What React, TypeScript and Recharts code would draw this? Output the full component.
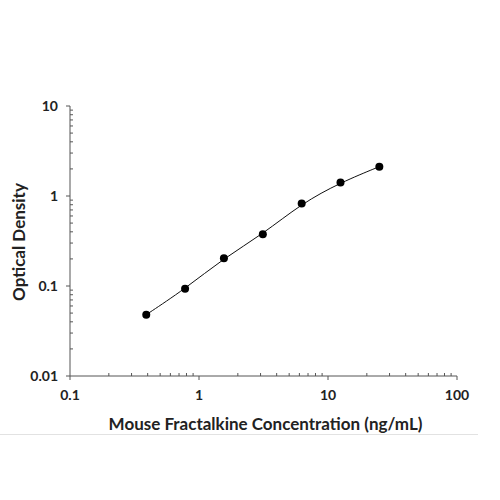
import React from "react";
import { ComposedChart, Line, XAxis, YAxis, Label } from "recharts";

// standard curve
const concentration = [0.39, 0.78, 1.56, 3.125, 6.25, 12.5, 25];
const opticalDensity = [0.048, 0.093, 0.204, 0.377, 0.826, 1.41, 2.12];

const xMajor = [0.1, 1, 10, 100];
const yMajor = [0.01, 0.1, 1, 10];
const minorSteps = [2, 3, 4, 5, 6, 7, 8, 9];

const xTicks = [
  ...xMajor,
  ...xMajor.slice(0, -1).flatMap((d) => minorSteps.map((m) => +(d * m).toPrecision(3))),
];
const yTicks = [
  ...yMajor,
  ...yMajor.slice(0, -1).flatMap((d) => minorSteps.map((m) => +(d * m).toPrecision(3))),
];

const data = concentration.map((c, i) => ({ x: c, y: opticalDensity[i] }));

const FONT = "Lato, 'Open Sans', sans-serif";
const AXIS = "#555";

const isMajor = (v: number, majors: number[]) => majors.some((m) => Math.abs(m - v) < 1e-9);

const XTick = ({ x, y, payload }: any) => {
  const major = isMajor(payload.value, xMajor);
  if (!major) return <line x1={x} x2={x} y1={y} y2={y - 3} stroke={AXIS} strokeWidth={1} />;
  return (
    <g>
      <line x1={x} x2={x} y1={y} y2={y + 4} stroke={AXIS} strokeWidth={1} />
      <text x={x} y={y + 24} textAnchor="middle" fontFamily={FONT} fontWeight={700} fontSize={14} fill="#222">
        {payload.value}
      </text>
    </g>
  );
};

const YTick = ({ x, y, payload }: any) => {
  const major = isMajor(payload.value, yMajor);
  if (!major) return <line x1={x} x2={x + 3} y1={y} y2={y} stroke={AXIS} strokeWidth={1} />;
  return (
    <g>
      <line x1={x} x2={x - 4} y1={y} y2={y} stroke={AXIS} strokeWidth={1} />
      <text x={x - 12} y={y + 5} textAnchor="end" fontFamily={FONT} fontWeight={700} fontSize={14} fill="#222">
        {payload.value}
      </text>
    </g>
  );
};

export default function App() {
  return (
    <div style={{ position: "absolute", left: 0, top: 0, width: 500, height: 500, background: "#fff" }}>
      <ComposedChart width={500} height={500} data={data} margin={{ top: 106, right: 43, bottom: 0, left: 0 }}>
        <XAxis
          dataKey="x"
          type="number"
          scale="log"
          domain={[0.1, 100]}
          ticks={xTicks}
          interval={0}
          tick={<XTick />}
          tickLine={false}
          tickSize={0}
          tickMargin={0}
          height={124}
          stroke={AXIS}
          allowDataOverflow
        >
          <Label
            content={({ viewBox }: any) => (
              <text
                x={viewBox.x + viewBox.width / 2 + 2}
                y={viewBox.y + 54}
                textAnchor="middle"
                fontFamily={FONT}
                fontWeight={700}
                fontSize={17}
                fill="#222"
              >
                Mouse Fractalkine Concentration (ng/mL)
              </text>
            )}
          />
        </XAxis>
        <YAxis
          type="number"
          scale="log"
          domain={[0.01, 10]}
          ticks={yTicks}
          interval={0}
          tick={<YTick />}
          tickLine={false}
          tickSize={0}
          tickMargin={0}
          width={70}
          stroke={AXIS}
          allowDataOverflow
        >
          <Label
            content={({ viewBox }: any) => {
              const cx = 25;
              const cy = viewBox.y + viewBox.height / 2 + 1;
              return (
                <text
                  x={cx}
                  y={cy}
                  textAnchor="middle"
                  transform={`rotate(-90 ${cx} ${cy})`}
                  fontFamily={FONT}
                  fontWeight={700}
                  fontSize={17}
                  fill="#222"
                >
                  Optical Density
                </text>
              );
            }}
          />
        </YAxis>
        {/* smoothed fit through the standards */}
        <Line
          dataKey="y"
          type="basis"
          stroke="#111"
          strokeWidth={1}
          dot={{ r: 4, fill: "#000", stroke: "#000", strokeWidth: 0 }}
          activeDot={false}
          isAnimationActive={false}
        />
      </ComposedChart>
      <div style={{ position: "absolute", left: 0, top: 434, width: 478, height: 1, background: "#e2e2e2" }} />
    </div>
  );
}
